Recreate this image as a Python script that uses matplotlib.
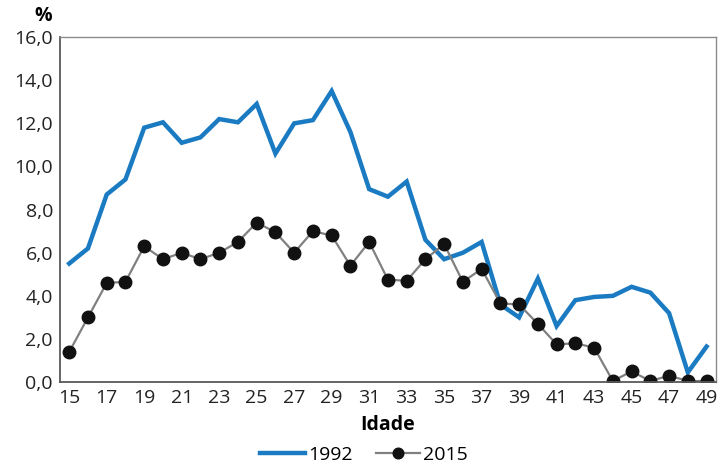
import matplotlib.pyplot as plt
from matplotlib.ticker import FuncFormatter

plt.rcParams['font.family'] = ['Open Sans', 'DejaVu Sans']

# idades e percentuais
idade = list(range(15, 50))
v1992 = [5.5, 6.2, 8.7, 9.4, 11.8, 12.05, 11.1, 11.35, 12.2, 12.05,
         12.9, 10.6, 12.0, 12.15, 13.5, 11.6, 8.95, 8.6, 9.3, 6.6,
         5.7, 6.0, 6.5, 3.6, 3.0, 4.8, 2.6, 3.8, 3.95, 4.0,
         4.42, 4.15, 3.2, 0.45, 1.65]
v2015 = [1.4, 3.0, 4.6, 4.65, 6.3, 5.7, 6.0, 5.7, 6.0, 6.5,
         7.4, 6.95, 6.0, 7.0, 6.8, 5.4, 6.5, 4.75, 4.7, 5.7,
         6.4, 4.65, 5.25, 3.65, 3.6, 2.7, 1.75, 1.8, 1.6, 0.05,
         0.5, 0.05, 0.3, 0.05, 0.05]
xticks = list(range(15, 50, 2))

fig = plt.figure(figsize=(7.21, 4.70), dpi=100)
ax = fig.add_axes([0.083, 0.187, 0.91, 0.734])

ax.plot(idade, v1992, color='#1b7bc2', linewidth=3.2, label='1992',
        solid_joinstyle='miter')
ax.plot(idade, v2015, color='#808080', linewidth=1.6, marker='o',
        markersize=9, markerfacecolor='#111111', markeredgecolor='#111111',
        label='2015')

ax.set_xlim(14.5, 49.5)
ax.set_ylim(0, 16)
ax.set_yticks(range(0, 17, 2))
ax.yaxis.set_major_formatter(FuncFormatter(lambda v, p: f'{v:.1f}'.replace('.', ',')))
ax.set_xticks(xticks)
ax.tick_params(length=0, labelsize=14, colors='#222222', pad=5)

for s in ['left', 'bottom']:
    ax.spines[s].set_color('#595959')
    ax.spines[s].set_linewidth(1.3)
for s in ['top', 'right']:
    ax.spines[s].set_color('#8c8c8c')
    ax.spines[s].set_linewidth(1.0)

ax.set_xlabel('Idade', fontsize=14, fontweight='bold', labelpad=6)
fig.text(0.06, 0.965, '%', fontsize=14, fontweight='bold', ha='center', va='center')

fig.legend(loc='center', bbox_to_anchor=(0.505, 0.032), ncol=2, frameon=False,
           fontsize=14, handlelength=2.3, columnspacing=1.2, handletextpad=0.15,
           markerscale=0.85)

fig.savefig('out.png', dpi=100)
